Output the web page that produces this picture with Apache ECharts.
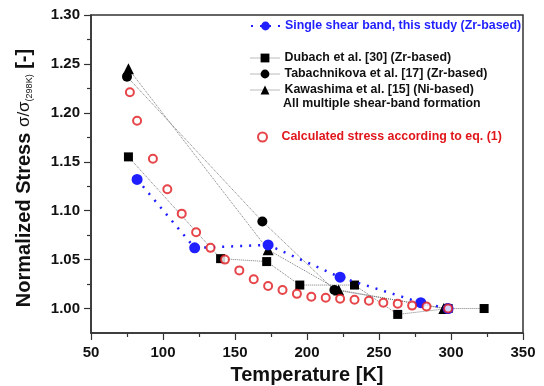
<!DOCTYPE html>
<html>
<head>
<meta charset="utf-8">
<script src="https://cdn.jsdelivr.net/npm/echarts@6/dist/echarts.min.js"></script>
<style>
  html, body { margin: 0; padding: 0; background: #fff; }
  #mychart { width: 544px; height: 386px; }
</style>
</head>
<body>
<div id="mychart"></div>
<script>
// data: [temperature K, normalized stress]
const singleShearBand = [[82, 1.132], [122, 1.062], [173, 1.065], [223, 1.032], [279, 1.006], [298, 1.0]];
const dubach = [[76, 1.155], [140, 1.051], [172, 1.048], [195, 1.024], [233, 1.024], [263, 0.994], [298, 1.0], [323, 1.0]];
const tabachnikova = [[75, 1.237], [169, 1.089], [219, 1.019], [297, 1.0]];
const kawashima = [[76, 1.245], [173, 1.060], [222, 1.019], [295, 1.0]];
const calculated = [
  [77, 1.221], [82, 1.192], [93, 1.153], [103, 1.122], [113, 1.097], [123, 1.078],
  [133, 1.062], [143, 1.050], [153, 1.039], [163, 1.030], [173, 1.023], [183, 1.019],
  [193, 1.015], [203, 1.012], [213, 1.011], [223, 1.010], [233, 1.009], [243, 1.008],
  [253, 1.006], [263, 1.005], [273, 1.003], [283, 1.002], [298, 1.0]
];
const yMajorTicks = [1.0, 1.05, 1.1, 1.15, 1.2, 1.25, 1.3];
const yMinorTicks = [1.025, 1.075, 1.125, 1.175, 1.225, 1.275];

const FONT = 'Arial, "Liberation Sans", sans-serif';
const BLUE = '#1f1fff';
const RED = '#e0161b';
const GREY = '#7a7a7a';

const chart = echarts.init(document.getElementById('mychart'));

// one small legend per entry so each row sits where the original has it
function legendRow(name, top, color, extra) {
  return Object.assign({
    data: [name],
    left: 250,
    top: top,
    orient: 'vertical',
    itemWidth: 29,
    itemHeight: 11,
    itemGap: 0,
    padding: 0,
    selectedMode: false,
    textStyle: { color: color, fontSize: 12.4, fontWeight: 'bold', fontFamily: FONT }
  }, extra || {});
}

const greyLine = { color: GREY, width: 1, type: 'dotted' };
const greyLegendLine = { lineStyle: { color: GREY, type: 'dotted', width: 1 } };

chart.setOption({
  animation: false,
  grid: {
    left: 91, right: 21, top: 15, bottom: 53, outerBoundsMode: 'none', containLabel: false,
    show: true, borderColor: '#333', borderWidth: 1.5
  },
  xAxis: {
    type: 'value', min: 50, max: 350, interval: 50,
    name: 'Temperature [K]', nameLocation: 'middle', nameGap: 32,
    nameTextStyle: { fontSize: 20, fontWeight: 'bold', color: '#111', fontFamily: FONT },
    axisLine: { lineStyle: { color: '#333', width: 1.5 } },
    axisTick: { length: 7, lineStyle: { color: '#333', width: 1.2 } },
    minorTick: { show: true, splitNumber: 2, length: 4, lineStyle: { color: '#333', width: 1.2 } },
    axisLabel: { fontSize: 15, fontWeight: 'bold', color: '#111', fontFamily: FONT, margin: 12 },
    splitLine: { show: false }
  },
  yAxis: [{
    type: 'value', min: 0.975, max: 1.3,
    axisLine: { show: true, lineStyle: { color: '#333', width: 1.5 } },
    axisTick: { show: true, length: 7, customValues: yMajorTicks, lineStyle: { color: '#333', width: 1.2 } },
    axisLabel: {
      customValues: yMajorTicks, fontSize: 15, fontWeight: 'bold', color: '#111', fontFamily: FONT, margin: 11,
      formatter: v => v.toFixed(2)
    },
    splitLine: { show: false }
  }, {
    type: 'value', min: 0.975, max: 1.3, position: 'left',
    axisLine: { show: false },
    axisTick: { show: true, length: 4, customValues: yMinorTicks, lineStyle: { color: '#333', width: 1.2 } },
    axisLabel: { show: false },
    splitLine: { show: false }
  }],
  legend: [
    legendRow('Single shear band, this study (Zr-based)', 20, BLUE),
    legendRow('Dubach et al. [30] (Zr-based)', 52, '#111', greyLegendLine),
    legendRow('Tabachnikova et al. [17] (Zr-based)', 68, '#111', greyLegendLine),
    legendRow('Kawashima et al. [15] (Ni-based)', 84, '#111', greyLegendLine),
    legendRow('Calculated stress according to eq. (1)', 131, RED, { left: 257, itemWidth: 28, itemHeight: 9 })
  ],
  graphic: [
    {
      type: 'text', left: 283, top: 98,
      style: { text: 'All multiple shear-band formation', fill: '#111', font: 'bold 12.4px ' + FONT }
    },
    {
      type: 'text', x: 24, y: 178, rotation: Math.PI / 2,
      style: {
        text: '{b|Normalized Stress }{g|σ/σ}{s|(298K)}{b| [-]}',
        align: 'center', verticalAlign: 'middle',
        rich: {
          b: { fontSize: 20, fontWeight: 'bold', fontFamily: FONT, fill: '#111' },
          g: { fontSize: 17, fontFamily: FONT, fill: '#111' },
          s: { fontSize: 9, fontFamily: FONT, fill: '#111', padding: [12, 0, 0, 0] }
        }
      }
    }
  ],
  series: [
    {
      name: 'Dubach et al. [30] (Zr-based)', type: 'line', data: dubach,
      symbol: 'rect', symbolSize: 9, itemStyle: { color: '#000' }, lineStyle: greyLine, z: 3
    },
    {
      name: 'Tabachnikova et al. [17] (Zr-based)', type: 'line', data: tabachnikova,
      symbol: 'circle', symbolSize: 10, itemStyle: { color: '#000' }, lineStyle: greyLine, z: 3
    },
    {
      name: 'Kawashima et al. [15] (Ni-based)', type: 'line', data: kawashima,
      symbol: 'triangle', symbolSize: 11, itemStyle: { color: '#000' }, lineStyle: greyLine, z: 3
    },
    {
      name: 'Single shear band, this study (Zr-based)', type: 'line', data: singleShearBand,
      symbol: 'circle', symbolSize: 11, itemStyle: { color: BLUE },
      lineStyle: { color: BLUE, width: 2.5, type: [2, 7] }, z: 4
    },
    {
      name: 'Calculated stress according to eq. (1)', type: 'scatter', data: calculated,
      symbol: 'circle', symbolSize: 8,
      itemStyle: { color: '#fff', borderColor: RED, borderWidth: 2 }, z: 5
    }
  ]
});
</script>
</body>
</html>
